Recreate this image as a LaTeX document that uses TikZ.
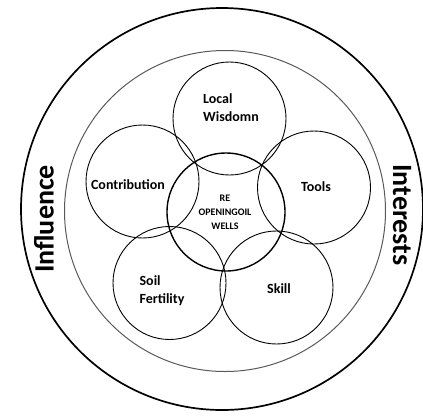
\documentclass[tikz,border=0pt]{standalone}
\usepackage{fontspec}
\setmainfont{Carlito}

\begin{document}
\begin{tikzpicture}
    [
        x=1pt, y=-1pt,
        ring/.style={draw, circle, inner sep=0pt, minimum size=113pt, line width=0.9pt},
        core/.style={draw, circle, inner sep=0pt, minimum size=118pt, line width=1.4pt},
        lbl/.style={font=\bfseries\fontsize{14}{18}\selectfont, align=left, inner sep=0pt},
        small/.style={font=\bfseries\fontsize{10}{14}\selectfont, align=center, inner sep=0pt},
        side/.style={font=\bfseries\fontsize{28}{30}\selectfont, inner sep=0pt}
    ]
    \useasboundingbox (0,0) rectangle (423,416);

    % big rings
    \node[draw, circle, inner sep=0pt, minimum size=402pt, line width=1.7pt] (outer) at (222,209) {};
    \node[draw=black!65, circle, inner sep=0pt, minimum size=321pt, line width=1pt] (inner) at (225,211) {};

    % five circles round the centre
    \node[ring] (wisdom) at (229.5,118.5) {};
    \node[ring] (contrib) at (142.5,181.5) {};
    \node[ring] (tools) at (314,187.5) {};
    \node[ring] (soil) at (169.5,283) {};
    \node[ring] (skill) at (276.5,287.5) {};
    \node[core] (wells) at (226,212) {};

    \node[lbl] (t_wisdom) at (231,108) {Local\\Wisdomn};
    \node[lbl] (t_contrib) at (128,185) {Contribution};
    \node[lbl] (t_tools) at (316,187) {Tools};
    \node[lbl] (t_soil) at (162,291) {Soil\\Fertility};
    \node[lbl] (t_skill) at (279,289) {Skill};
    \node[small] (t_wells) at (225,212) {RE\\OPENINGOIL\\WELLS};

    \node[side, rotate=90] (influence) at (44,219) {Influence};
    \node[side, rotate=-90] (interests) at (402,215) {Interests};
\end{tikzpicture}
\end{document}
